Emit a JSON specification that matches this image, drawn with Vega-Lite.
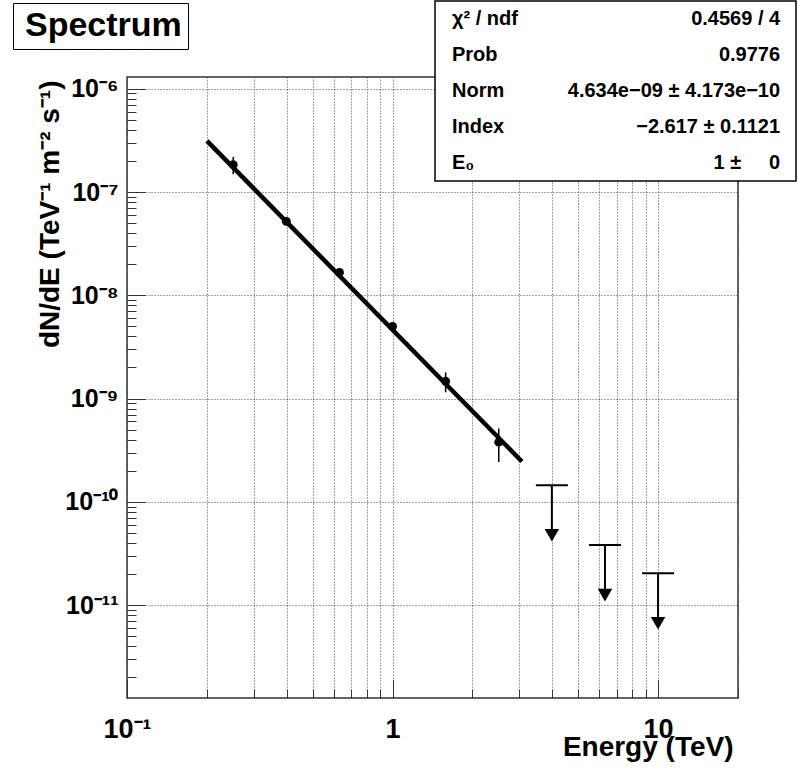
{
  "$schema": "https://vega.github.io/schema/vega-lite/v6.json",
  "width": 611,
  "height": 621,
  "autosize": {"type": "none"},
  "padding": {"left": 127, "top": 77, "right": 60, "bottom": 73},
  "background": "white",
  "config": {
    "view": {"stroke": "#333", "strokeWidth": 1.5},
    "font": "Liberation Sans"
  },
  "datasets": {
    "fit": [
      {"E": 0.2, "F": 3.13e-7},
      {"E": 3.07, "F": 2.46e-10}
    ],
    "points": [
      {"E": 0.2512, "F": 1.84e-7, "err": 3.5e-8},
      {"E": 0.3981, "F": 5.2e-8, "err": 4.5e-9},
      {"E": 0.631, "F": 1.667e-8, "err": 1.6e-9},
      {"E": 1.0, "F": 5.0e-9, "err": 4.5e-10},
      {"E": 1.585, "F": 1.47e-9, "err": 3.2e-10},
      {"E": 2.512, "F": 3.78e-10, "err": 1.35e-10}
    ],
    "limits": [
      {"E": 3.981, "UL": 1.45e-10},
      {"E": 6.31, "UL": 3.81e-11},
      {"E": 10.0, "UL": 2.03e-11}
    ],
    "stats": [
      {"row": 1, "name": "χ² / ndf", "value": "0.4569 / 4"},
      {"row": 2, "name": "Prob", "value": "0.9776"},
      {"row": 3, "name": "Norm", "value": "4.634e−09 ± 4.173e−10"},
      {"row": 4, "name": "Index", "value": "−2.617 ± 0.1121"},
      {"row": 5, "name": "E₀", "value": "1 ±\u2007\u2007 0"}
    ]
  },
  "layer": [
    {
      "layer": [
        {
          "data": {"name": "fit"},
          "mark": {"type": "line", "strokeWidth": 4.5, "strokeCap": "butt"},
          "encoding": {
            "x": {
              "field": "E",
              "type": "quantitative",
              "title": "Energy (TeV)",
              "scale": {"type": "log", "domain": [0.1, 20], "nice": false},
              "axis": {
                "values": [0.1, 0.2, 0.3, 0.4, 0.5, 0.6, 0.7, 0.8, 0.9, 1, 2, 3, 4, 5, 6, 7, 8, 9, 10, 20],
                "labelExpr": "datum.value == 0.1 ? '10⁻¹' : datum.value == 1 ? '1' : datum.value == 10 ? '10' : ''",
                "tickSize": {"condition": {"test": "datum.value == 0.1 || datum.value == 1 || datum.value == 10", "value": -18}, "value": -9},
                "tickColor": "#333",
                "tickWidth": 1,
                "domain": false,
                "grid": true,
                "gridColor": "#444",
                "gridDash": [1, 2],
                "gridWidth": 1,
                "gridOpacity": 1,
                "labelFont": "Liberation Sans",
                "labelFontWeight": "bold",
                "labelFontSize": 27,
                "labelColor": "black",
                "labelPadding": 36,
                "labelFlush": false,
                "labelOverlap": false,
                "labelBound": false,
                "titleFont": "Liberation Sans",
                "titleFontSize": 28,
                "titleFontWeight": "bold",
                "titleColor": "black",
                "titleAnchor": "end",
                "titleAlign": "right",
                "titleBaseline": "alphabetic",
                "titleX": 606,
                "titleY": 57
              }
            },
            "y": {
              "field": "F",
              "type": "quantitative",
              "title": "dN/dE (TeV⁻¹ m⁻² s⁻¹)",
              "scale": {"type": "log", "domain": [1.26e-12, 1.3e-6], "nice": false},
              "axis": {
                "values": [2e-12, 3e-12, 4e-12, 5e-12, 6e-12, 7e-12, 8e-12, 9e-12,
                           1e-11, 2e-11, 3e-11, 4e-11, 5e-11, 6e-11, 7e-11, 8e-11, 9e-11,
                           1e-10, 2e-10, 3e-10, 4e-10, 5e-10, 6e-10, 7e-10, 8e-10, 9e-10,
                           1e-9, 2e-9, 3e-9, 4e-9, 5e-9, 6e-9, 7e-9, 8e-9, 9e-9,
                           1e-8, 2e-8, 3e-8, 4e-8, 5e-8, 6e-8, 7e-8, 8e-8, 9e-8,
                           1e-7, 2e-7, 3e-7, 4e-7, 5e-7, 6e-7, 7e-7, 8e-7, 9e-7, 1e-6],
                "labelExpr": "abs(log(datum.value)/LN10 - round(log(datum.value)/LN10)) > 0.001 ? '' : round(log(datum.value)/LN10) == -6 ? '10⁻⁶' : round(log(datum.value)/LN10) == -7 ? '10⁻⁷' : round(log(datum.value)/LN10) == -8 ? '10⁻⁸' : round(log(datum.value)/LN10) == -9 ? '10⁻⁹' : round(log(datum.value)/LN10) == -10 ? '10⁻¹⁰' : round(log(datum.value)/LN10) == -11 ? '10⁻¹¹' : ''",
                "tickSize": {"condition": {"test": "abs(log(datum.value)/LN10 - round(log(datum.value)/LN10)) < 0.001", "value": -18}, "value": -9},
                "tickColor": "#333",
                "tickWidth": 1,
                "domain": false,
                "grid": true,
                "gridColor": "#444",
                "gridDash": [1, 2],
                "gridWidth": 1,
                "gridOpacity": {"condition": {"test": "abs(log(datum.value)/LN10 - round(log(datum.value)/LN10)) < 0.001", "value": 1}, "value": 0},
                "labelFont": "Liberation Sans",
                "labelFontWeight": "bold",
                "labelFontSize": 25,
                "labelColor": "black",
                "labelPadding": 27,
                "labelOverlap": false,
                "labelBound": false,
                "labelFlush": false,
                "titleFont": "Liberation Sans",
                "titleFontSize": 28,
                "titleFontWeight": "bold",
                "titleColor": "black",
                "titleAngle": 270,
                "titleAnchor": "end",
                "titleAlign": "right",
                "titleBaseline": "alphabetic",
                "titleX": -69,
                "titleY": 3
              }
            },
            "color": {
              "datum": "Spectrum",
              "type": "nominal",
              "scale": {"range": ["black"]},
              "legend": {
                "orient": "none",
                "legendX": -114,
                "legendY": -74,
                "title": null,
                "symbolType": "circle",
                "symbolSize": 0,
                "symbolOpacity": 0,
                "symbolStrokeWidth": 0,
                "labelFont": "Liberation Sans",
                "labelFontSize": 34,
                "labelFontWeight": "bold",
                "labelColor": "black",
                "labelLimit": 0,
                "labelOffset": -28,
                "strokeColor": "black",
                "fillColor": "white",
                "padding": 6
              }
            }
          }
        },
        {
          "data": {"name": "points"},
          "mark": {"type": "errorbar", "color": "black", "thickness": 1.5},
          "encoding": {
            "x": {"field": "E", "type": "quantitative", "title": "Energy (TeV)"},
            "y": {"field": "F", "type": "quantitative", "title": "dN/dE (TeV⁻¹ m⁻² s⁻¹)"},
            "yError": {"field": "err"}
          }
        },
        {
          "data": {"name": "points"},
          "mark": {"type": "point", "shape": "circle", "filled": true, "size": 80, "color": "black", "opacity": 1},
          "encoding": {
            "x": {"field": "E", "type": "quantitative", "title": "Energy (TeV)"},
            "y": {"field": "F", "type": "quantitative", "title": "dN/dE (TeV⁻¹ m⁻² s⁻¹)"}
          }
        },
        {
          "data": {"name": "limits"},
          "mark": {"type": "rule", "strokeWidth": 2, "color": "black", "y2Offset": 46},
          "encoding": {
            "x": {"field": "E", "type": "quantitative", "title": "Energy (TeV)"},
            "y": {"field": "UL", "type": "quantitative", "title": "dN/dE (TeV⁻¹ m⁻² s⁻¹)"},
            "y2": {"field": "UL"}
          }
        },
        {
          "data": {"name": "limits"},
          "mark": {"type": "tick", "orient": "horizontal", "size": 32, "thickness": 2, "color": "black", "opacity": 1},
          "encoding": {
            "x": {"field": "E", "type": "quantitative", "title": "Energy (TeV)"},
            "y": {"field": "UL", "type": "quantitative", "title": "dN/dE (TeV⁻¹ m⁻² s⁻¹)"}
          }
        },
        {
          "data": {"name": "limits"},
          "mark": {"type": "point", "shape": "triangle-down", "filled": true, "size": 210, "color": "black", "opacity": 1, "yOffset": 50},
          "encoding": {
            "x": {"field": "E", "type": "quantitative", "title": "Energy (TeV)"},
            "y": {"field": "UL", "type": "quantitative", "title": "dN/dE (TeV⁻¹ m⁻² s⁻¹)"}
          }
        }
      ]
    },
    {
      "layer": [
        {
          "data": {"values": [{}]},
          "mark": {"type": "rect", "fill": "white", "stroke": "black", "strokeWidth": 1.5},
          "encoding": {
            "x": {"datum": 0, "type": "quantitative", "scale": {"domain": [0, 1], "range": [308, 669]}, "axis": null},
            "x2": {"datum": 1},
            "y": {"datum": 0.5, "type": "quantitative", "scale": {"domain": [0.5, 5.5], "range": [-76, 104]}, "axis": null},
            "y2": {"datum": 5.5}
          }
        },
        {
          "data": {"name": "stats"},
          "mark": {"type": "text", "align": "left", "baseline": "middle", "font": "Liberation Sans", "fontWeight": "bold", "fontSize": 20, "color": "black"},
          "encoding": {
            "x": {"datum": 0.047, "type": "quantitative"},
            "y": {"field": "row", "type": "quantitative"},
            "text": {"field": "name"}
          }
        },
        {
          "data": {"name": "stats"},
          "mark": {"type": "text", "align": "right", "baseline": "middle", "font": "Liberation Sans", "fontWeight": "bold", "fontSize": 20, "color": "black"},
          "encoding": {
            "x": {"datum": 0.956, "type": "quantitative"},
            "y": {"field": "row", "type": "quantitative"},
            "text": {"field": "value"}
          }
        }
      ]
    }
  ],
  "resolve": {"scale": {"x": "independent", "y": "independent"}}
}
